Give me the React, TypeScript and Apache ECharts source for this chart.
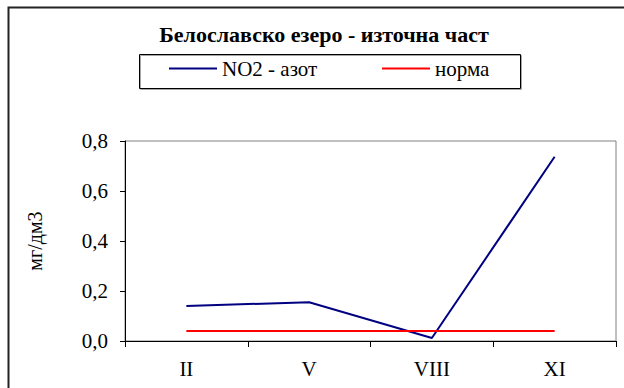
import React, { useEffect, useRef } from "react";
import * as echarts from "echarts";

// Sampling months (Roman numerals) and measured nitrogen values, mg/dm3
const months: string[] = ["II", "V", "VIII", "XI"];
const no2Values: number[] = [0.14, 0.155, 0.012, 0.737];
const normValues: number[] = [0.04, 0.04, 0.04, 0.04];

const titleText = "Белославско езеро - източна част";
const seriesNames: string[] = ["NO2 - азот", "норма"];
const yAxisName = "мг/дм3";

const FONT = "Liberation Serif";

export default function App() {
  const ref = useRef<HTMLDivElement>(null);

  useEffect(() => {
    if (!ref.current) return;
    const chart = echarts.init(ref.current, undefined, { renderer: "svg" });
    chart.setOption({
      animation: false,
      backgroundColor: "#ffffff",
      textStyle: { fontFamily: FONT },
      title: {
        text: titleText,
        left: 324,
        top: 23,
        textAlign: "center",
        padding: 0,
        textStyle: {
          fontFamily: FONT,
          fontSize: 22,
          fontWeight: "bold",
          color: "#000",
        },
      },
      legend: [
        {
          data: [seriesNames[0]],
          left: 169,
          top: 58,
          padding: 0,
          icon: "rect",
          itemWidth: 48,
          itemHeight: 2,
          textStyle: { fontFamily: FONT, fontSize: 21, color: "#000" },
        },
        {
          data: [seriesNames[1]],
          left: 382,
          top: 58,
          padding: 0,
          icon: "rect",
          itemWidth: 48,
          itemHeight: 2,
          textStyle: { fontFamily: FONT, fontSize: 21, color: "#000" },
        },
      ],
      graphic: [
        {
          type: "rect",
          silent: true,
          shape: { x: 8.5, y: 7.5, width: 700, height: 500 },
          style: { fill: "none", stroke: "#222", lineWidth: 2 },
        },
        {
          type: "rect",
          silent: true,
          shape: { x: 139.5, y: 54.5, width: 381, height: 34 },
          style: {
            fill: "none",
            stroke: "#000",
            lineWidth: 1,
            shadowColor: "rgba(0,0,0,0.35)",
            shadowOffsetX: 1,
            shadowOffsetY: 1,
          },
        },
      ],
      grid: {
        left: 125,
        right: 8,
        top: 141,
        bottom: 47,
        show: true,
        borderColor: "#808080",
        borderWidth: 1,
        backgroundColor: "transparent",
      },
      xAxis: {
        type: "category",
        data: months,
        boundaryGap: true,
        axisLine: { lineStyle: { color: "#000", width: 1 } },
        axisTick: { show: true, length: 6, alignWithLabel: false, lineStyle: { color: "#000" } },
        axisLabel: { fontFamily: FONT, fontSize: 21, color: "#000", margin: 17 },
        splitLine: { show: false },
      },
      yAxis: {
        type: "value",
        min: 0,
        max: 0.8,
        interval: 0.2,
        name: yAxisName,
        nameLocation: "middle",
        nameRotate: 90,
        nameGap: 80,
        nameTextStyle: { fontFamily: FONT, fontSize: 20, color: "#000" },
        axisLine: { show: true, lineStyle: { color: "#000", width: 1 } },
        axisTick: { show: true, length: 5, lineStyle: { color: "#000" } },
        axisLabel: {
          fontFamily: FONT,
          fontSize: 21,
          color: "#000",
          margin: 17,
          formatter: (v: number) => v.toFixed(1).replace(".", ","),
        },
        splitLine: { show: false },
      },
      series: [
        {
          name: seriesNames[0],
          type: "line",
          data: no2Values,
          color: "#000080",
          symbol: "none",
          lineStyle: { color: "#000080", width: 2 },
        },
        {
          name: seriesNames[1],
          type: "line",
          data: normValues,
          color: "#ff0000",
          symbol: "none",
          lineStyle: { color: "#ff0000", width: 2 },
        },
      ],
    });
    return () => chart.dispose();
  }, []);

  return (
    <div
      ref={ref}
      style={{ position: "fixed", left: 0, top: 0, width: 624, height: 388 }}
    />
  );
}
